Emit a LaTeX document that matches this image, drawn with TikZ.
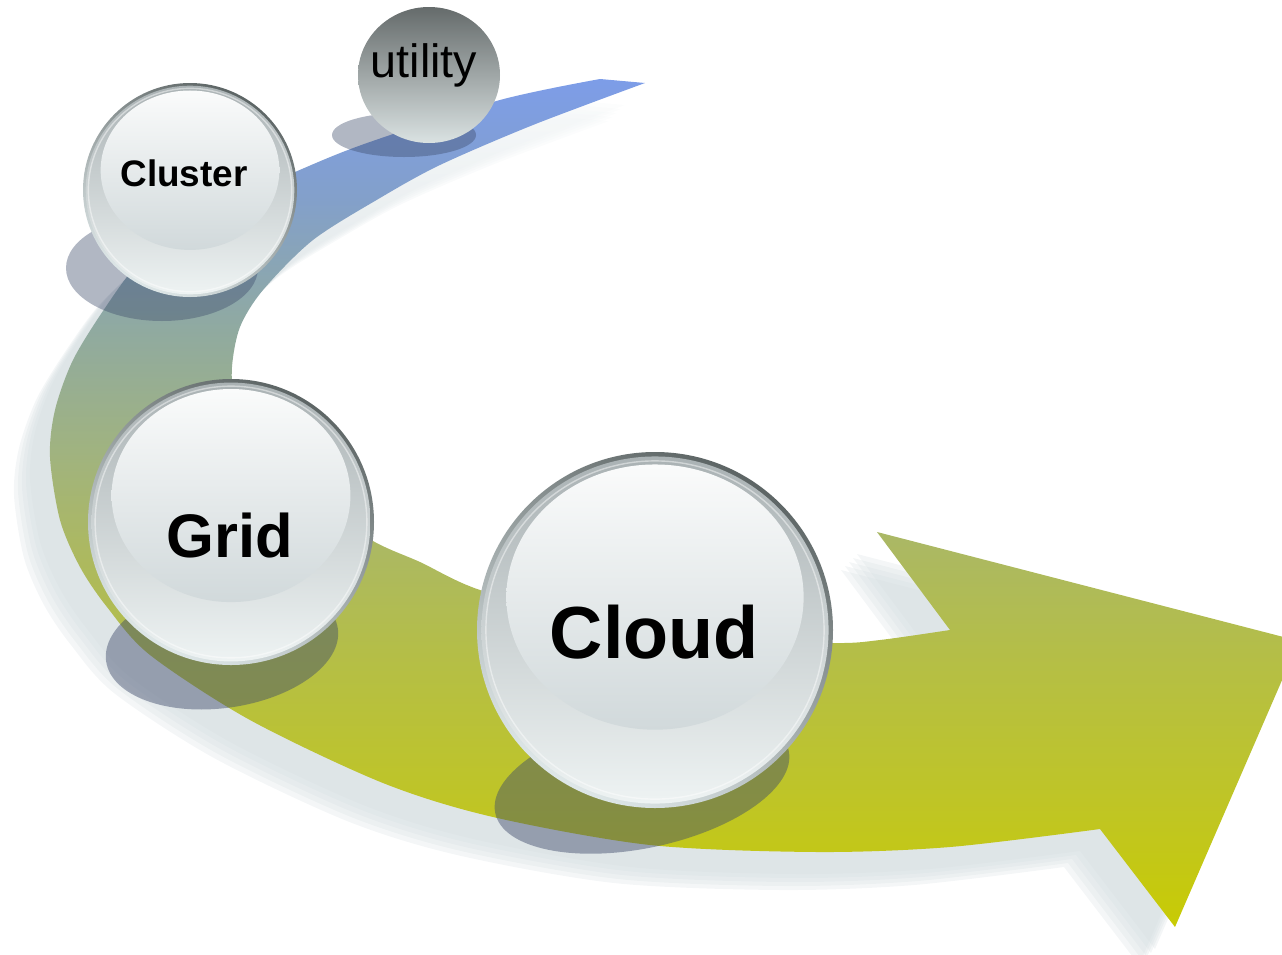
\documentclass[tikz,border=0pt]{standalone}
\usepackage{fontspec}
\setmainfont{Liberation Sans}

% band colours, from the tail (top) to the arrow head (bottom)
\definecolor{bandA}{RGB}{125,157,232}
\definecolor{bandB}{RGB}{131,160,202}
\definecolor{bandC}{RGB}{144,170,160}
\definecolor{bandD}{RGB}{160,179,128}
\definecolor{bandE}{RGB}{171,184,100}
\definecolor{bandF}{RGB}{180,190,72}
\definecolor{bandG}{RGB}{191,197,38}
\definecolor{bandH}{RGB}{200,203,4}
% shadow colours: pale near the tail, full lower down
\definecolor{shadowTop}{RGB}{244,247,248}
\definecolor{shadowLow}{RGB}{212,221,224}
% glossy orb colours
\definecolor{rimDark}{RGB}{93,101,101}
\definecolor{rimMid}{RGB}{163,171,173}
\definecolor{rimLight}{RGB}{222,231,232}
\definecolor{ringTop}{RGB}{170,178,180}
\definecolor{ringMid}{RGB}{194,201,203}
\definecolor{ringBot}{RGB}{238,243,243}
\definecolor{hiTop}{RGB}{250,251,251}
\definecolor{hiBot}{RGB}{209,217,219}
\definecolor{orbShadow}{RGB}{61,74,106}
\definecolor{utilTop}{RGB}{101,107,107}
\definecolor{utilMid}{RGB}{154,161,161}
\definecolor{utilBot}{RGB}{218,226,226}

\pgfdeclareverticalshading{bandshade}{100bp}{color(0bp)=(bandH); color(25bp)=(bandH);
  color(32.5bp)=(bandG); color(41.3bp)=(bandF); color(47.8bp)=(bandE);
  color(53.1bp)=(bandD); color(60.2bp)=(bandC); color(67.9bp)=(bandB);
  color(75bp)=(bandA); color(100bp)=(bandA)}
\pgfdeclareverticalshading{shadowshade}{100bp}{color(0bp)=(shadowLow);
  color(62bp)=(shadowLow); color(75bp)=(shadowTop); color(100bp)=(shadowTop)}

% outline of the curved arrow
\newcommand\bandPath{plot[smooth] coordinates {(600,79) (500,100) (367,143) (295,172)
    (200,215) (140,262) (105,308) (73,360) (55,410) (50,457) (60,520) (80,567)
    (107,607) (150,655) (250,720) (383,783) (493,817) (650,845) (817,852)
    (950,847) (1100,829)}
  -- (1175,927) -- (1299,641) -- (877,532)
  -- plot[smooth] coordinates {(950,630) (880,640) (833,643) (700,638) (600,622)
    (480,590) (420,562) (373,541) (300,495) (255,440) (235,400) (232,367)
    (240,327) (263,290) (313,240) (380,198) (440,165) (533,125) (645,83)}
  -- cycle}

% glossy orb: #1 centre, #2 radius
\newcommand\drawOrb[2]{%
  \begin{scope}[shift={#1}]
    \shade[top color=rimDark, middle color=rimMid, bottom color=rimLight,
      shading angle=-30] (0,0) circle[radius=#2];
    \shade[top color=ringTop, middle color=ringMid, bottom color=ringBot]
      (0,0) circle[radius=0.975*#2];
    \draw[white, opacity=0.45, line width=0.8pt] (0,0) circle[radius=0.95*#2];
    \shade[top color=hiTop, bottom color=hiBot]
      (0,-0.185*#2) ellipse[x radius=0.835*#2, y radius=0.745*#2];
  \end{scope}}

\tikzset{
  orbshade/.style={fill=orbShadow, opacity=0.45},
  orblabel/.style={anchor=base, inner sep=0pt, text=black},
}

\begin{document}
\begin{tikzpicture}[x=0.02cm, y=-0.02cm]
  \useasboundingbox (0,0) rectangle (1282,954);
  \clip (0,0) rectangle (1282,954);

  % soft shadow of the arrow: several offset copies layered
  \foreach \dx/\dy in {-20/22,-24/26,-28/30,-32/34,-36/38}
    \shade[shading=shadowshade, opacity=0.25, shift={(\dx,\dy)}] \bandPath;

  % the arrow
  \shade[shading=bandshade] \bandPath;

  % shadows cast by the orbs
  \fill[orbshade, opacity=0.4] (404,135) ellipse[x radius=72, y radius=22];
  \fill[orbshade, opacity=0.4] (162,268) ellipse[x radius=96, y radius=53];
  \fill[orbshade, shift={(222,645)}, rotate=8] (0,0) ellipse[x radius=117, y radius=63];
  \fill[orbshade, shift={(642,782)}, rotate=12] (0,0) ellipse[x radius=150, y radius=66];

  % utility
  \shade[top color=utilTop, middle color=utilMid, bottom color=utilBot]
    (429,75) ellipse[x radius=71, y radius=68];
  \node[orblabel, font=\fontsize{26.6pt}{30pt}\selectfont] (utility) at (424,77) {utility};

  % cluster, grid, cloud
  \drawOrb{(190,190)}{107}
  \node[orblabel, font=\bfseries\fontsize{21pt}{24pt}\selectfont] (cluster) at (184,186) {Cluster};

  \drawOrb{(231,522)}{143}
  \node[orblabel, font=\bfseries\fontsize{35pt}{40pt}\selectfont] (grid) at (229.5,557) {Grid};

  \drawOrb{(655,630)}{178}
  \node[orblabel, font=\bfseries\fontsize{42pt}{48pt}\selectfont] (cloud) at (654.5,658) {Cloud};
\end{tikzpicture}
\end{document}
